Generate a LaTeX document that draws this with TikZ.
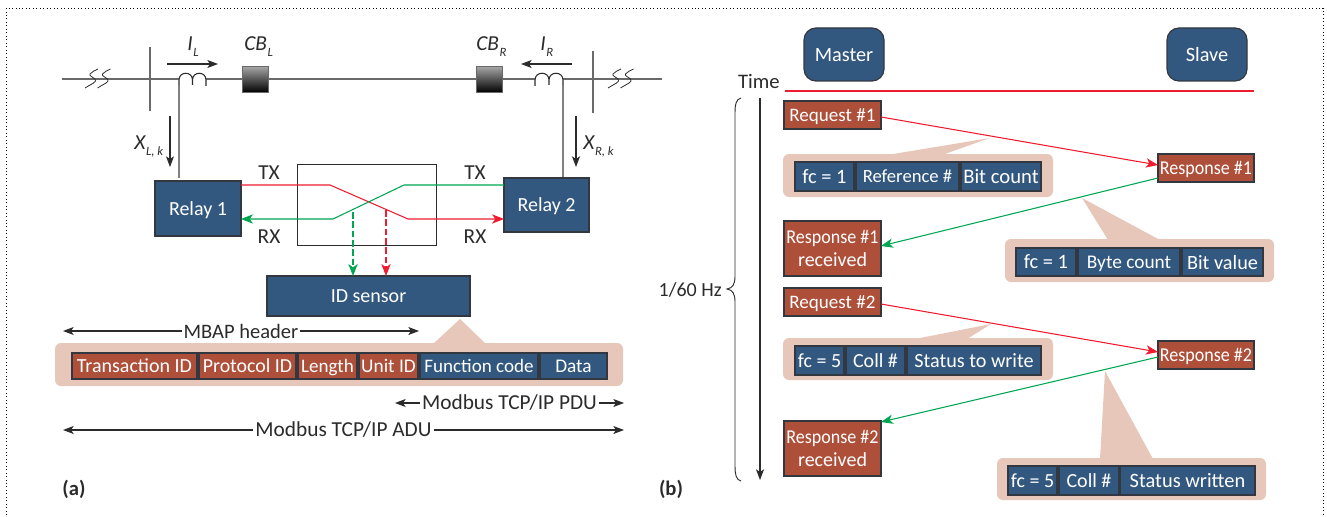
\documentclass[tikz,border=0pt]{standalone}
\usepackage{fontspec}
\setmainfont{Carlito}
\usetikzlibrary{arrows.meta,calc}
\definecolor{navy}{HTML}{33587F}
\definecolor{brick}{HTML}{AE4F39}
\definecolor{salmon}{HTML}{E6C7BA}
\definecolor{edgec}{HTML}{333840}
\definecolor{redl}{HTML}{EE1C2E}
\definecolor{greenl}{HTML}{00A651}
\definecolor{inkc}{HTML}{2B2B2B}
\definecolor{wire}{HTML}{6A6A6A}
\newcommand{\bx}[7]{%
  \pgfmathsetmacro{\bw}{(#5-#3)*0.75}\pgfmathsetmacro{\bh}{(#6-#4)*0.75}%
  \node[#1,minimum width=\bw pt,minimum height=\bh pt,anchor=north west] (#2) at (#3,#4) {#7};}
\newcommand{\pad}[5]{\fill[salmon,rounded corners=4.5pt] (#1,#2) rectangle (#3,#4);\fill[salmon] #5;}
\newcommand{\sbs}[1]{\kern0.5pt\raisebox{-4.5pt}{\fontsize{9.5}{10}\selectfont #1}}
\newcommand{\fsz}[1]{\fontsize{#1}{17.5}\selectfont}
\newcommand{\nar}[1]{\scalebox{0.92}[1]{#1}}
\tikzset{
  x=0.75pt,y=-0.75pt,
  base/.style={inner sep=0pt,outer sep=0pt,align=center,text=white,draw=edgec,line width=0.9pt,text depth=0pt,font=\fsz{14.5}},
  bluebox/.style={base,fill=navy},
  redbox/.style={base,fill=brick},
  bigblue/.style={bluebox,font=\fsz{15}},
  roundblue/.style={bluebox,rounded corners=9pt,font=\fsz{15.2}},
  lab/.style={inner sep=0pt,text=inkc,font=\fsz{16}},
  mlab/.style={inner sep=0pt,text=inkc,font=\fontsize{16}{16}\itshape\selectfont},
  bold/.style={inner sep=0pt,text=inkc,font=\fontsize{15.5}{16}\bfseries\selectfont},
  blk/.style={draw=inkc,line width=0.8pt,-{Stealth[length=8pt,width=6pt,inset=2pt]}},
  dblk/.style={draw=inkc,line width=0.8pt,{Stealth[length=8pt,width=6pt,inset=2pt]}-{Stealth[length=8pt,width=6pt,inset=2pt]}},
  redarr/.style={draw=redl,line width=0.8pt,-{Stealth[length=9pt,width=7pt,inset=2.5pt]}},
  grnarr/.style={draw=greenl,line width=0.8pt,-{Stealth[length=9pt,width=7pt,inset=2.5pt]}},
  wireline/.style={draw=wire,line width=0.9pt},
  dashes/.style={line width=0.9pt,dash pattern=on 5pt off 2pt},
}
\begin{document}
\begin{tikzpicture}
\useasboundingbox (0,0) rectangle (1327,517);
\draw[black,line width=0.6pt,dotted] (6,515) -- (6,8) -- (1323,8) -- (1323,515);
% ---- panel a: power line
\coordinate (lineL) at (62,79); \coordinate (lineR) at (662,79);
\draw[wireline] (lineL) -- (lineR);
\draw[wireline] (150,47) -- (150,111);
\draw[wireline] (593,51) -- (593,113);
\foreach \o in {85,97.5,608,620.5}{
  \draw[draw=inkc,line width=0.6pt,shift={(\o,0)}] (0,88) .. controls (6,84) and (13,82) .. (10,79) .. controls (8,77) and (4,76) .. (5,74) .. controls (7,72) and (10,70) .. (13,69);
}
\foreach \a/\b/\c in {179/192.5/206,535/549/563}{
  \fill[white] (\a,74) rectangle (\c,87);
  \draw[draw=inkc,line width=0.8pt] (\a,86) -- (\a,80) .. controls (\a,71) and (\b,71) .. (\b,80) -- (\b,85) (\b,80) .. controls (\b,71) and (\c,71) .. (\c,80) -- (\c,86);
}
\draw[wireline,draw=gray] (179,85) -- (179,178) coordinate (wireLb);
\draw[wireline,draw=gray] (563,85) -- (563,178) coordinate (wireRb);
\bx{draw=wire,line width=0.6pt,top color=gray!70,bottom color=black,inner sep=0pt}{cbl}{242}{66}{268}{92}{}
\bx{draw=wire,line width=0.6pt,top color=gray!70,bottom color=black,inner sep=0pt}{cbr}{476}{66}{502}{92}{}
\node[mlab,anchor=base west] (il) at (187,51) {I\sbs{L}};
\node[mlab,anchor=base west] (cbltxt) at (244,51) {CB\sbs{L}};
\node[mlab,anchor=base west] (ir) at (540,51) {I\sbs{R}};
\node[mlab,anchor=base west] (cbrtxt) at (476,51) {CB\sbs{R}};
\coordinate (ila) at (167,64); \coordinate (ilb) at (218,64);
\coordinate (ira) at (572,64); \coordinate (irb) at (521,64);
\draw[blk] (ila) -- (ilb);
\draw[blk] (ira) -- (irb);
\coordinate (xla) at (170,116); \coordinate (xlb) at (170,167);
\coordinate (xra) at (576,116); \coordinate (xrb) at (576,167);
\draw[blk] (xla) -- (xlb);
\draw[blk] (xra) -- (xrb);
\node[mlab,anchor=base west] (xl) at (134,149) {X\sbs{L, k}};
\node[mlab,anchor=base west] (xr) at (583,149) {X\sbs{R, k}};
% relays
\bx{bigblue}{relay1}{155}{181}{241}{236}{Relay 1}
\bx{bigblue}{relay2}{504}{178}{589}{232}{Relay 2}
\bx{draw=inkc,line width=0.8pt,inner sep=0pt}{mix}{297}{164}{436}{245}{}
\node[lab] (txl) at (269,173) {TX};
\node[lab] (rxl) at (269,237) {RX};
\node[lab] (txr) at (475,173) {TX};
\node[lab] (rxr) at (475,237) {RX};
\draw[redarr] (relay1.east |- 0,185) -- (330,185) -- (408,219) -- (relay2.west |- 0,219);
\draw[grnarr] (relay2.west |- 0,185) -- (404,185) -- (333,219) -- (relay1.east |- 0,219);
\bx{bigblue}{idsensor}{267}{276}{470}{316}{ID sensor}
\coordinate (gtap) at (353,212); \coordinate (rtap) at (386,210);
\draw[grnarr,dashes] (gtap) -- (gtap |- idsensor.north);
\draw[redarr,dashes] (rtap) -- (rtap |- idsensor.north);
% frame fields
\pad{55}{343}{623}{386}{(433,344) -- (460,319) -- (486,344) -- cycle}
\bx{redbox,font=\fsz{15}}{f1}{72}{353}{197}{379}{Transaction ID}
\bx{redbox,font=\fsz{14.9}}{f2}{199}{353}{296}{379}{Protocol ID}
\bx{redbox,font=\fsz{14.3}}{f3}{298}{353}{357}{379}{Length}
\bx{redbox}{f4}{359}{353}{418}{379}{Unit ID}
\bx{bluebox,font=\fsz{14.3}}{f5}{420}{353}{538}{379}{Function code}
\bx{bluebox}{f6}{540}{353}{607}{379}{Data}
\coordinate (ma) at (63,331); \coordinate (mb) at (419,331);
\draw[dblk] (ma) -- (mb) node[midway,lab,font=\fsz{15.4},fill=white,inner xsep=1.5pt] (mbap) {MBAP header};
\coordinate (pa) at (395,403); \coordinate (pb) at (624,403);
\draw[dblk] (pa) -- (pb) node[midway,lab,fill=white,inner xsep=1.5pt] (pdu) {Modbus TCP/IP PDU};
\coordinate (aa) at (63,430); \coordinate (ab) at (624,430);
\draw[dblk] (aa) -- (ab) node[midway,lab,fill=white,inner xsep=1.5pt] (adu) {Modbus TCP/IP ADU};
\node[bold] (a) at (74,489) {(a)};
\node[bold] (b) at (671,489) {(b)};
% ---- panel b
\bx{roundblue}{master}{804}{28}{884}{81}{Master}
\bx{roundblue}{slave}{1167}{28}{1247}{81}{Slave}
\node[lab,font=\fsz{15.5},anchor=east] (time) at (780,81) {Time};
\coordinate (ra) at (785,91); \coordinate (rb) at (1254,91);
\draw[draw=redl,line width=0.85pt] (ra) -- (rb);
\coordinate (ta) at (760,98); \coordinate (tb) at (760,480);
\draw[blk] (ta) -- (tb);
\draw[draw=inkc,line width=0.7pt] (741,98) .. controls (736,99) and (735,105) .. (735,112) -- (735,276) .. controls (735,284) and (733,288) .. (727,289) .. controls (733,290) and (735,294) .. (735,302) -- (735,466) .. controls (735,474) and (736,480) .. (741,481);
\node[lab,font=\fsz{15},anchor=east] (hz) at (722,290) {1/60 Hz};
% first exchange
\pad{783}{154}{1053}{197}{(887,155) -- (990,138) -- (942,155) -- cycle}
\bx{bluebox,font=\fsz{15.3}}{c1}{795}{162}{854}{191}{fc = 1}
\bx{bluebox,font=\fsz{14}}{c2}{856}{162}{959}{191}{Reference \#}
\bx{bluebox,font=\fsz{15.5}}{c3}{961}{162}{1041}{191}{Bit count}
\pad{1005}{239}{1274}{282}{(1082,198) -- (1108,240) -- (1160,240) -- cycle}
\bx{bluebox,font=\fsz{15.3}}{d1}{1016}{248}{1076}{276}{fc = 1}
\bx{bluebox}{d2}{1078}{248}{1180}{276}{Byte count}
\bx{bluebox,font=\fsz{15.2}}{d3}{1182}{248}{1263}{276}{Bit value}
\bx{redbox,font=\fsz{14.3}}{req1}{784}{101}{881}{129}{Request \#1}
\bx{redbox,font=\fsz{14.7}}{resp1}{1158}{154}{1254}{182}{\nar{Response \#1}}
\bx{redbox,font=\fsz{14.7}}{rec1}{784}{221}{881}{276}{\nar{Response \#1}\\{\fsz{15}received}}
\draw[redarr] (req1.east |- 0,117) -- (resp1.west |- 0,165);
\draw[grnarr] (resp1.west |- 0,178) -- (rec1.east |- 0,246);
% second exchange
\pad{783}{338}{1053}{380}{(915,339) -- (991,324) -- (967,339) -- cycle}
\bx{bluebox,font=\fsz{15}}{e1}{795}{346}{844}{375}{fc = 5}
\bx{bluebox,font=\fsz{15}}{e2}{846}{346}{905}{375}{Coll \#}
\bx{bluebox,font=\fsz{15.1}}{e3}{907}{346}{1041}{375}{Status to write}
\pad{997}{458}{1266}{500}{(1100,459) -- (1105,371) -- (1153,459) -- cycle}
\bx{bluebox,font=\fsz{15}}{g1}{1008}{466}{1057}{495}{fc = 5}
\bx{bluebox,font=\fsz{15}}{g2}{1059}{466}{1119}{495}{Coll \#}
\bx{bluebox,font=\fsz{15.3}}{g3}{1120}{466}{1255}{495}{Status written}
\bx{redbox,font=\fsz{14.3}}{req2}{784}{288}{881}{316}{Request \#2}
\bx{redbox,font=\fsz{14.7}}{resp2}{1158}{341}{1254}{369}{\nar{Response \#2}}
\bx{redbox,font=\fsz{14.7}}{rec2}{784}{421}{881}{476}{\nar{Response \#2}\\{\fsz{15}received}}
\draw[redarr] (req2.east |- 0,304) -- (resp2.west |- 0,352);
\draw[grnarr] (resp2.west |- 0,357) -- (rec2.east |- 0,422);
\end{tikzpicture}
\end{document}
